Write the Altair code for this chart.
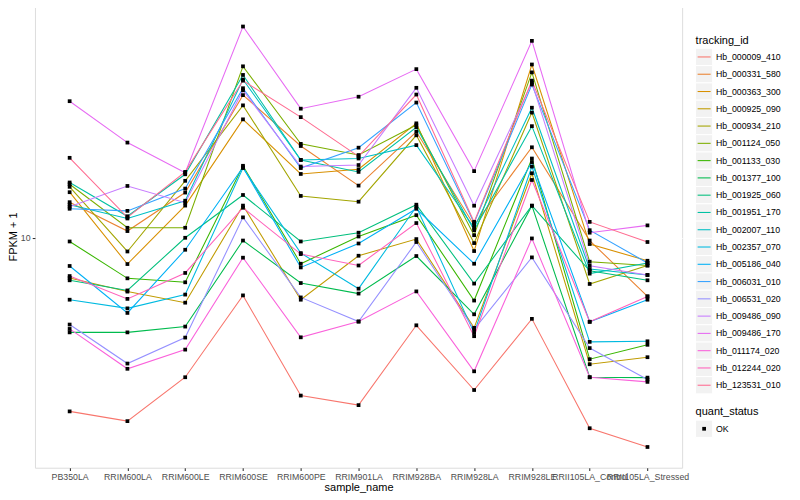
import altair as alt
import pandas as pd

samples = ["PB350LA", "RRIM600LA", "RRIM600LE", "RRIM600SE", "RRIM600PE", "RRIM901LA",
           "RRIM928BA", "RRIM928LA", "RRIM928LE", "RRII105LA_Control", "RRII105LA_Stressed"]

ids = ["Hb_000009_410", "Hb_000331_580", "Hb_000363_300", "Hb_000925_090", "Hb_000934_210",
       "Hb_001124_050", "Hb_001133_030", "Hb_001377_100", "Hb_001925_060", "Hb_001951_170",
       "Hb_002007_110", "Hb_002357_070", "Hb_005186_040", "Hb_006031_010", "Hb_006531_020",
       "Hb_009486_090", "Hb_009486_170", "Hb_011174_020", "Hb_012244_020", "Hb_123531_010"]

colors = ["#F8766D", "#EA8331", "#D89000", "#C09B00", "#A3A500", "#7CAE00", "#39B600", "#00BB4E",
          "#00BF7D", "#00C1A3", "#00BFC4", "#00BAE0", "#00B0F6", "#35A2FF", "#9590FF", "#C77CFF",
          "#E76BF3", "#FA62DB", "#FF62BC", "#FF6C91"]

# FPKM + 1 per sample, in the order of `samples`
hb_000009_410 = [2.63, 2.44, 3.42, 6.42, 2.97, 2.76, 5.10, 3.10, 5.36, 2.31, 2.00]
hb_000331_580 = [13.15, 10.53, 14.16, 29.97, 20.26, 14.94, 22.61, 11.02, 20.06, 9.79, 6.37]
hb_000363_300 = [14.2, 8.17, 12.81, 24.87, 16.34, 16.94, 24.12, 9.03, 37.93, 9.53, 8.38]
hb_000925_090 = [7.34, 6.61, 6.07, 12.81, 6.21, 8.71, 9.90, 5.00, 16.43, 3.78, 3.99]
hb_000934_210 = [14.8, 9.0, 15.5, 27.7, 13.8, 13.2, 22.0, 9.6, 26.2, 7.01, 8.08]
hb_001124_050 = [15.1, 10.8, 10.8, 37.4, 20.6, 18.9, 23.8, 10.2, 35.7, 8.32, 8.08]
hb_001133_030 = [9.72, 7.32, 7.1, 17.4, 8.19, 10.1, 11.9, 6.17, 18.4, 3.93, 4.39]
hb_001377_100 = [4.83, 4.83, 5.05, 9.79, 7.06, 6.51, 8.69, 5.55, 12.8, 3.42, 3.41]
hb_001925_060 = [7.21, 6.67, 10.0, 13.9, 9.72, 10.4, 12.9, 7.03, 12.8, 7.76, 7.21]
hb_001951_170 = [15.3, 11.8, 16.3, 35.0, 18.2, 16.6, 23.4, 10.6, 23.6, 7.59, 8.24]
hb_002007_110 = [12.9, 11.6, 13.3, 33.8, 18.2, 18.4, 20.4, 10.8, 27.2, 7.86, 7.51]
hb_002357_070 = [6.21, 5.81, 6.46, 17.1, 8.89, 6.76, 12.7, 4.81, 17.3, 4.49, 4.51]
hb_005186_040 = [8.05, 5.61, 9.12, 17.2, 7.96, 9.57, 12.5, 8.19, 17.9, 5.24, 6.21]
hb_006031_010 = [12.5, 12.3, 14.6, 31.6, 17.1, 20.0, 28.3, 11.2, 32.5, 10.6, 8.24]
hb_006531_020 = [5.13, 3.8, 4.64, 11.7, 6.32, 5.25, 9.68, 4.94, 8.6, 4.28, 3.36]
hb_009486_090 = [12.7, 14.9, 13.1, 31.1, 17.3, 17.5, 31.7, 12.8, 33.0, 8.07, 7.51]
hb_009486_170 = [28.6, 20.8, 16.5, 50.8, 27.0, 29.6, 36.6, 16.7, 45.5, 10.4, 11.0]
hb_011174_020 = [4.96, 3.65, 4.23, 8.58, 4.65, 5.25, 6.62, 3.58, 9.95, 3.42, 3.30]
hb_012244_020 = [7.45, 6.25, 7.63, 12.6, 8.82, 8.08, 11.2, 4.69, 15.6, 5.24, 6.37]
hb_123531_010 = [18.5, 11.7, 16.6, 33.5, 25.3, 18.7, 30.1, 11.3, 33.5, 11.3, 9.68]

series = [hb_000009_410, hb_000331_580, hb_000363_300, hb_000925_090, hb_000934_210,
          hb_001124_050, hb_001133_030, hb_001377_100, hb_001925_060, hb_001951_170,
          hb_002007_110, hb_002357_070, hb_005186_040, hb_006031_010, hb_006531_020,
          hb_009486_090, hb_009486_170, hb_011174_020, hb_012244_020, hb_123531_010]

rows = []
for tid, vals in zip(ids, series):
    for s, v in zip(samples, vals):
        rows.append({"tracking_id": tid, "sample_name": s, "fpkm": v, "quant_status": "OK"})
df = pd.DataFrame(rows)

FONT = "Liberation Sans"
W, H = 648, 463

xenc = alt.X("sample_name:N", sort=samples, title="sample_name",
             scale=alt.Scale(type="point", padding=0.6),
             axis=alt.Axis(labelAngle=0, labelOverlap=False, labelBound=False,
                           labelFontSize=8.8, labelColor="#4D4D4D", labelPadding=2.2,
                           tickSize=2.75, tickColor="#333333", tickWidth=1.07,
                           domain=False, grid=True, gridColor="white", gridWidth=1.07,
                           titleFontSize=11, titleColor="black", titleFontWeight="normal",
                           titleY=20, titleBaseline="middle"))
yenc = alt.Y("fpkm:Q", title="FPKM + 1",
             scale=alt.Scale(type="log", domain=[1.705, 59.8], nice=False, zero=False),
             axis=alt.Axis(values=[10], format="d", labelFontSize=8.8, labelColor="#4D4D4D",
                           labelPadding=2.2, tickSize=2.75, tickColor="#333333", tickWidth=1.07,
                           domain=False, grid=True, gridColor="white", gridWidth=1.07,
                           titleFontSize=11, titleColor="black", titleFontWeight="normal",
                           titleX=-21, titleY=H / 2, titleAngle=270, titleBaseline="middle",
                           titleAlign="center"))
cscale = alt.Scale(domain=ids, range=colors)

base = alt.Chart(df).encode(x=xenc, y=yenc)
lines = base.mark_line(strokeWidth=1.07).encode(
    color=alt.Color("tracking_id:N", scale=cscale, legend=None))
points = base.mark_point(shape="square", filled=True, size=14, color="black", opacity=1)
main = alt.layer(lines, points)

# ---- hand-made ggplot-style legend (layout in plot pixel units) ----
OX, OY = 35, 5          # plot origin on the page
KEY = 17.3
leg = pd.DataFrame({
    "tracking_id": ids,
    "yc": [56.7 - OY + i * KEY for i in range(len(ids))],
})
leg["y1"] = leg["yc"] - KEY / 2
leg["y2"] = leg["yc"] + KEY / 2
leg["x1"] = 696.3 - OX
leg["x2"] = 713.6 - OX
leg["lx1"] = 698.5 - OX
leg["lx2"] = 711.5 - OX
leg["tx"] = 716.8 - OX

xs = alt.Scale(domain=[0, W], nice=False, zero=False)
ys = alt.Scale(domain=[0, H], nice=False, zero=False, reverse=True)

lg = alt.Chart(leg)
key_bg = lg.mark_rect(fill="#F2F2F2", stroke="white", strokeWidth=1).encode(
    x=alt.X("x1:Q", scale=xs, axis=None), x2="x2:Q",
    y=alt.Y("y1:Q", scale=ys, axis=None), y2="y2:Q")
key_line = lg.mark_rule(strokeWidth=1.07).encode(
    x=alt.X("lx1:Q", scale=xs, axis=None), x2="lx2:Q",
    y=alt.Y("yc:Q", scale=ys, axis=None),
    color=alt.Color("tracking_id:N", scale=cscale, legend=None))
key_text = lg.mark_text(align="left", baseline="middle", font=FONT, fontSize=8.8,
                        color="black").encode(
    x=alt.X("tx:Q", scale=xs, axis=None), y=alt.Y("yc:Q", scale=ys, axis=None),
    text="tracking_id:N")

titles = pd.DataFrame({"t": ["tracking_id", "quant_status"],
                       "x": [696.5 - OX, 696.5 - OX],
                       "y": [40.7 - OY, 412.7 - OY]})
leg_titles = alt.Chart(titles).mark_text(align="left", baseline="middle", font=FONT,
                                         fontSize=11, color="black").encode(
    x=alt.X("x:Q", scale=xs, axis=None), y=alt.Y("y:Q", scale=ys, axis=None), text="t:N")

qs = pd.DataFrame({"quant_status": ["OK"], "yc": [429 - OY]})
qs["y1"] = qs["yc"] - KEY / 2
qs["y2"] = qs["yc"] + KEY / 2
qs["x1"] = 696.3 - OX
qs["x2"] = 713.6 - OX
qs["px"] = 705 - OX
qs["tx"] = 716.8 - OX
qc = alt.Chart(qs)
qs_bg = qc.mark_rect(fill="#F2F2F2", stroke="white", strokeWidth=1).encode(
    x=alt.X("x1:Q", scale=xs, axis=None), x2="x2:Q",
    y=alt.Y("y1:Q", scale=ys, axis=None), y2="y2:Q")
qs_pt = qc.mark_point(shape="square", filled=True, size=14, color="black", opacity=1).encode(
    x=alt.X("px:Q", scale=xs, axis=None), y=alt.Y("yc:Q", scale=ys, axis=None))
qs_txt = qc.mark_text(align="left", baseline="middle", font=FONT, fontSize=8.8,
                      color="black").encode(
    x=alt.X("tx:Q", scale=xs, axis=None), y=alt.Y("yc:Q", scale=ys, axis=None),
    text="quant_status:N")

chart = alt.layer(main, key_bg, key_line, key_text, leg_titles, qs_bg, qs_pt, qs_txt).resolve_scale(
    x="independent", y="independent"
).properties(
    width=W, height=H,
    autosize=alt.AutoSizeParams(type="none"),
    padding={"left": 27, "top": -3, "right": 110, "bottom": 30},
    background="white",
).configure_view(fill="#EBEBEB", strokeWidth=0).configure(font=FONT)

chart.save("out.html", embed_options={"renderer": "svg", "actions": False})
